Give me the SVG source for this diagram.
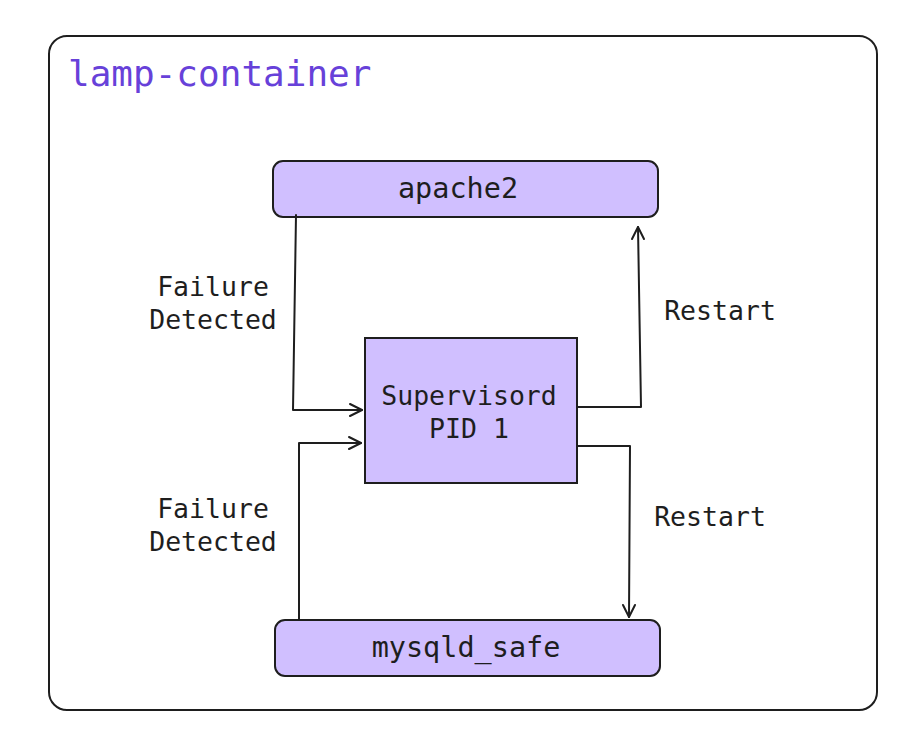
<svg xmlns="http://www.w3.org/2000/svg" width="923" height="747" viewBox="0 0 923 747">
<style>
.box{fill:#d0bfff;stroke:#1e1e1e;stroke-width:2}
.lbl{font-family:"DejaVu Sans Mono","Liberation Mono",monospace;fill:#1e1e1e;text-anchor:middle;dominant-baseline:central}
.n{font-size:28.5px}
.e{font-size:26.5px}
.c{fill:none;stroke:#1e1e1e;stroke-width:2;stroke-linejoin:round;stroke-linecap:round}
</style>
<rect width="923" height="747" fill="#ffffff"/>
<g id="lamp-container">
<rect x="49" y="36" width="828" height="674" rx="18" fill="none" stroke="#1e1e1e" stroke-width="2"/>
<text x="68" y="86" font-family="DejaVu Sans Mono,Liberation Mono,monospace" font-size="36" fill="#6741d9">lamp-container</text>
</g>
<g id="apache2">
<rect class="box" x="273" y="161" width="385" height="56" rx="10"/>
<text class="lbl n" x="458" y="188">apache2</text>
</g>
<g id="supervisord">
<rect class="box" x="365" y="338" width="212" height="145"/>
<text class="lbl e" x="469" y="395">Supervisord</text>
<text class="lbl e" x="469" y="428">PID 1</text>
</g>
<g id="mysqld_safe">
<rect class="box" x="275" y="620" width="385" height="56" rx="10"/>
<text class="lbl n" x="466" y="647">mysqld_safe</text>
</g>
<g id="connectors">
<path class="c" d="M296 215 L293 410 L362 410"/>
<path class="c" d="M350 404 L362 410 L350 416"/>
<path class="c" d="M299 619 L299 443 L361 443"/>
<path class="c" d="M349 437 L361 443 L349 449"/>
<path class="c" d="M578 407 L641 407 L638 227"/>
<path class="c" d="M632 239 L638 227 L644 239"/>
<path class="c" d="M578 446 L630 446 L629 617"/>
<path class="c" d="M623 605 L629 617 L635 605"/>
<text class="lbl e" x="213" y="286">Failure</text>
<text class="lbl e" x="213" y="319">Detected</text>
<text class="lbl e" x="213" y="508">Failure</text>
<text class="lbl e" x="213" y="541">Detected</text>
<text class="lbl e" x="720" y="310">Restart</text>
<text class="lbl e" x="710" y="516">Restart</text>
</g>
</svg>
